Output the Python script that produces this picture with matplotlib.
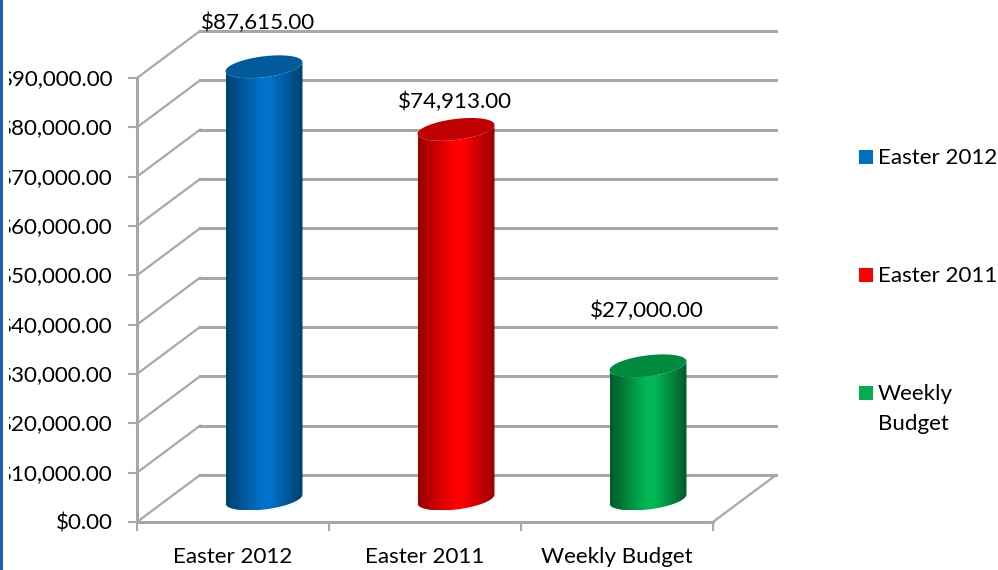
import matplotlib.pyplot as plt
import numpy as np
from matplotlib.colors import LinearSegmentedColormap
from matplotlib.patches import PathPatch, Rectangle
from matplotlib.path import Path
from matplotlib.transforms import Bbox

plt.switch_backend('Agg')
plt.rcParams['font.family'] = ['Lato', 'DejaVu Sans']

# Data
categories = ['Easter 2012', 'Easter 2011', 'Weekly Budget']
values = [87615, 74913, 27000]
value_labels = ['$87,615.00', '$74,913.00', '$27,000.00']
legend_labels = ['Easter 2012', 'Easter 2011', 'Weekly\nBudget']
y_ticks = [0, 10000, 20000, 30000, 40000, 50000, 60000, 70000, 80000, 90000]

body_colors = [('#00406f', '#0072cc'), ('#990000', '#ff0000'), ('#005a2a', '#00b855')]
top_colors = ['#005a9c', '#c00000', '#008a3e']
solid_colors = ['#0070c0', '#ff0000', '#00b050']
label_lift = [44, 28, 55]      # pixels from cylinder top to its label
label_shift = [-6, -1, -1]     # pixels sideways from cylinder centre
legend_rows = [157, 275, 393]  # pixel rows of the legend entries

GRID = '#a8a8a8'
PX_X = 192.0            # pixels per category
PX_Y = 444.0 / 90000    # pixels per dollar
FONT = 16.1

fig = plt.figure(figsize=(9.98, 5.70), dpi=100)
ax = fig.add_axes([0, 0, 1, 1])
# front corner of the plot is at pixel (137, 522)
ax.set_xlim(-137 / PX_X, (998 - 137) / PX_X)
ax.set_ylim(-48 / PX_Y, 522 / PX_Y)
ax.axis('off')


def dx(px):
    return px / PX_X


def dy(px):
    return px / PX_Y


depth_x = dx(63)
depth_y = dy(47)
n = len(categories)

# walls
for v in y_ticks:
    ax.plot([0, depth_x], [v, v + depth_y], color=GRID, lw=1.6, zorder=1)
    ax.plot([depth_x, n + depth_x], [v + depth_y, v + depth_y], color=GRID, lw=2.2, zorder=1)
    ax.plot([-dx(8), 0], [v, v], color=GRID, lw=1.5, zorder=1)
ax.plot([n, n + depth_x], [0, depth_y], color=GRID, lw=1.6, zorder=1)
ax.plot([0, 0], [0, y_ticks[-1]], color=GRID, lw=2.2, zorder=2)
ax.plot([0, n], [0, 0], color=GRID, lw=2.2, zorder=2)
for i in range(n + 1):
    ax.plot([i, i], [0, -dy(8)], color=GRID, lw=1.5, zorder=2)


def ellipse(cx, cy, t):
    # tilted ellipse for the cylinder ends
    x = cx + dx(38.5) * np.cos(t)
    y = cy + dy(10.5) * np.sin(t) + dy(4.5) * np.cos(t)
    return x, y


# cylinders
for i, v in enumerate(values):
    cx = i + 0.5 + dx(31)
    base = dy(23)
    top = v + base
    t_low = np.linspace(np.pi, 2 * np.pi, 60)
    t_up = np.linspace(0, 2 * np.pi, 120)
    bx, by = ellipse(cx, base, t_low)
    tx, ty = ellipse(cx, top, t_low[::-1])
    verts = np.column_stack([np.r_[bx, tx], np.r_[by, ty]])
    clip = PathPatch(Path(np.vstack([verts, verts[0]])), transform=ax.transData, fc='none', ec='none')
    ax.add_patch(clip)
    edge, mid = body_colors[i]
    cmap = LinearSegmentedColormap.from_list('c', [(0, edge), (0.47, mid), (0.58, mid), (1, edge)], N=256)
    grad = np.linspace(0, 1, 256).reshape(1, -1)
    im = ax.imshow(grad, cmap=cmap, aspect='auto', zorder=3,
                   extent=[cx - dx(38.5), cx + dx(38.5), by.min(), ty.max()])
    im.set_clip_path(clip)
    ex, ey = ellipse(cx, top, t_up)
    ax.fill(ex, ey, color=top_colors[i], zorder=4, lw=0)
    ax.text(cx + dx(label_shift[i]), top + dy(label_lift[i]), value_labels[i], ha='center', va='center',
            fontsize=FONT, color='black', zorder=5)
    ax.text(i + 0.5, -dy(35), categories[i], ha='center', va='center', fontsize=FONT, color='black')

ax.set_xlim(-137 / PX_X, (998 - 137) / PX_X)
ax.set_ylim(-48 / PX_Y, 522 / PX_Y)

# y labels are cut off on the left in the original
for v in y_ticks:
    t = ax.text(-dx(24), v - dy(2), f'${v:,.2f}', ha='right', va='center', fontsize=FONT, color='black')
    if v > 0:
        t.set_clip_on(True)
        t.set_clip_box(Bbox([[9, 0], [998, 570]]))

# legend
for i, lab in enumerate(legend_labels):
    py = 522 - legend_rows[i]
    ax.add_patch(Rectangle((dx(859 - 137), dy(py - 7)), dx(14), dy(14), color=solid_colors[i], lw=0, zorder=5))
    ax.text(dx(878 - 137), dy(py + 9), lab, ha='left', va='top', fontsize=FONT, color='black', linespacing=1.65)

# blue page edge on the left
ax.add_patch(Rectangle((-137 / PX_X, -48 / PX_Y), dx(3), dy(570), color='#1a5fb4', lw=0, zorder=6))

fig.savefig('out.png', dpi=100)
